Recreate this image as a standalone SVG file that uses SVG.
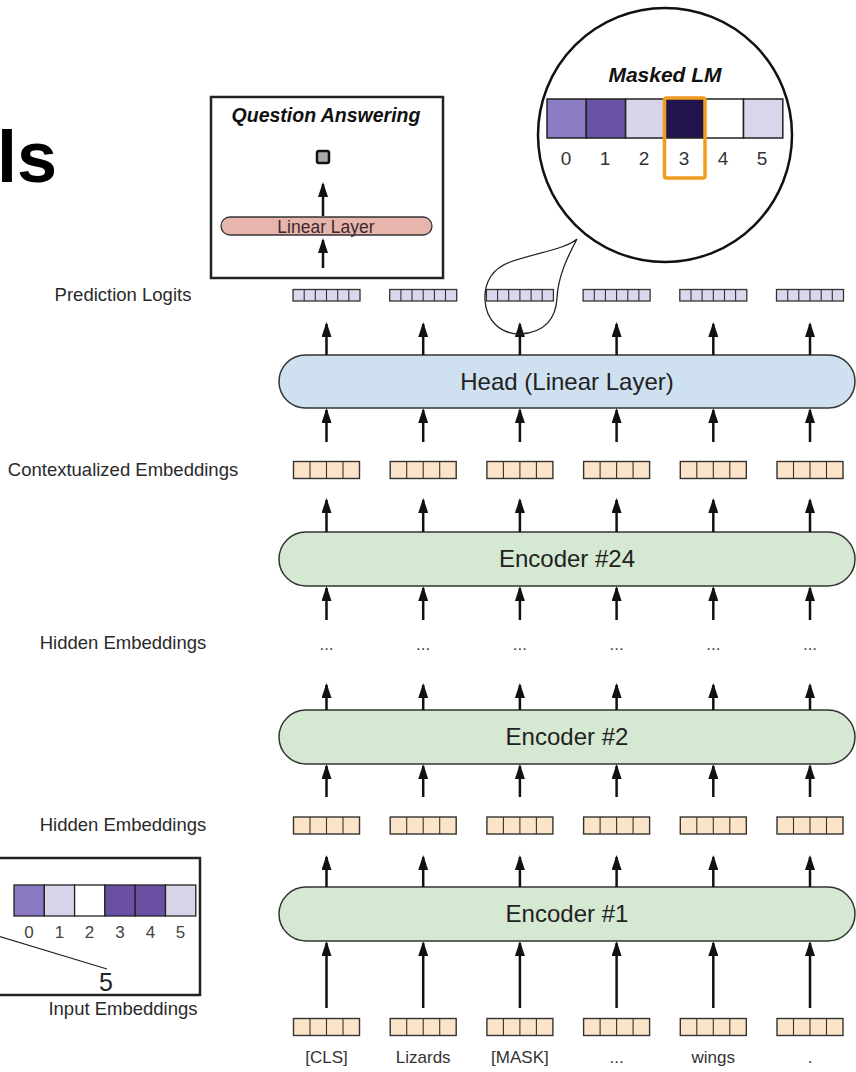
<svg xmlns="http://www.w3.org/2000/svg" width="856" height="1072" viewBox="0 0 856 1072">
<style>
text{font-family:"Liberation Sans",Arial,Helvetica,sans-serif}
.lbl{font-size:18.5px;fill:#2a2a2a;text-anchor:middle}
.tok{font-size:17px;fill:#333;text-anchor:middle}
.big{font-size:24px;fill:#222;text-anchor:middle}
.head{fill:#cfe0f1;stroke:#333;stroke-width:1.5}
.enc{fill:#d5e8d2;stroke:#333;stroke-width:1.5}
.emb{fill:#fce4c8;stroke:#333;stroke-width:1.4}
.logit{fill:#dcd7ec;stroke:#333;stroke-width:1.3}
.cell{stroke:#333;stroke-width:1.1;fill:none}
.arr{stroke:#111;stroke-width:2.5;fill:none;marker-end:url(#ah)}
.frame{fill:#fff;stroke:#222;stroke-width:2.5}
.dig{font-size:19px;fill:#333;text-anchor:middle}
.dig2{font-size:17px;fill:#444;text-anchor:middle}
.bi{font-weight:bold;font-style:italic;fill:#111;text-anchor:middle}
</style>
<defs>
<marker id="ah" viewBox="0 0 15 10" markerWidth="15" markerHeight="10" refX="13" refY="5" orient="auto" markerUnits="userSpaceOnUse">
<path d="M0,0 L15,5 L0,10 z" fill="#111"/>
</marker>
<g id="logitvec">
<rect class="logit" x="-33.5" y="0" width="67" height="11.5"/>
<path class="cell" d="M-22.3,0v11.5M-11.2,0v11.5M0,0v11.5M11.2,0v11.5M22.3,0v11.5"/>
</g>
<g id="embvec">
<rect class="emb" x="-33" y="0" width="66" height="17"/>
<path class="cell" d="M-16.5,0v17M0,0v17M16.5,0v17"/>
</g>
</defs>

<text x="-3" y="182" font-size="72" font-weight="bold" fill="#000">ls</text>

<g id="labels">
<text class="lbl" x="123" y="301">Prediction Logits</text>
<text class="lbl" x="123" y="476">Contextualized Embeddings</text>
<text class="lbl" x="123" y="649">Hidden Embeddings</text>
<text class="lbl" x="123" y="831">Hidden Embeddings</text>
<text class="lbl" x="123" y="1015">Input Embeddings</text>
</g>

<g id="head"><rect class="head" x="279" y="355" width="576" height="53" rx="26.5"/><text class="big" x="567" y="390">Head (Linear Layer)</text></g>
<g id="encoder24"><rect class="enc" x="279" y="532" width="576" height="54" rx="27"/><text class="big" x="567" y="567">Encoder #24</text></g>
<g id="encoder2"><rect class="enc" x="279" y="710" width="576" height="54" rx="27"/><text class="big" x="567" y="745">Encoder #2</text></g>
<g id="encoder1"><rect class="enc" x="279" y="887" width="576" height="54" rx="27"/><text class="big" x="567" y="922">Encoder #1</text></g>

<g id="logits">
<use href="#logitvec" x="326.5" y="289.5"/><use href="#logitvec" x="423.2" y="289.5"/><use href="#logitvec" x="519.9" y="289.5"/><use href="#logitvec" x="616.6" y="289.5"/><use href="#logitvec" x="713.3" y="289.5"/><use href="#logitvec" x="810" y="289.5"/>
</g>
<g id="contextualized">
<use href="#embvec" x="326.5" y="461.5"/><use href="#embvec" x="423.2" y="461.5"/><use href="#embvec" x="519.9" y="461.5"/><use href="#embvec" x="616.6" y="461.5"/><use href="#embvec" x="713.3" y="461.5"/><use href="#embvec" x="810" y="461.5"/>
</g>
<g id="hidden-dots" font-size="17" fill="#444" text-anchor="middle">
<text x="326.5" y="650">...</text><text x="423.2" y="650">...</text><text x="519.9" y="650">...</text><text x="616.6" y="650">...</text><text x="713.3" y="650">...</text><text x="810" y="650">...</text>
</g>
<g id="hidden">
<use href="#embvec" x="326.5" y="817"/><use href="#embvec" x="423.2" y="817"/><use href="#embvec" x="519.9" y="817"/><use href="#embvec" x="616.6" y="817"/><use href="#embvec" x="713.3" y="817"/><use href="#embvec" x="810" y="817"/>
</g>
<g id="input">
<use href="#embvec" x="326.5" y="1018.5"/><use href="#embvec" x="423.2" y="1018.5"/><use href="#embvec" x="519.9" y="1018.5"/><use href="#embvec" x="616.6" y="1018.5"/><use href="#embvec" x="713.3" y="1018.5"/><use href="#embvec" x="810" y="1018.5"/>
</g>
<g id="tokens">
<text class="tok" x="326.5" y="1063">[CLS]</text>
<text class="tok" x="423.2" y="1063">Lizards</text>
<text class="tok" x="519.9" y="1063">[MASK]</text>
<text class="tok" x="616.6" y="1063" fill="#555">...</text>
<text class="tok" x="713.3" y="1063">wings</text>
<text class="tok" x="810" y="1063">.</text>
</g>

<g id="connectors">
<line class="arr" x1="326.5" y1="355" x2="326.5" y2="324"/><line class="arr" x1="423.2" y1="355" x2="423.2" y2="324"/><line class="arr" x1="519.9" y1="355" x2="519.9" y2="324"/><line class="arr" x1="616.6" y1="355" x2="616.6" y2="324"/><line class="arr" x1="713.3" y1="355" x2="713.3" y2="324"/><line class="arr" x1="810" y1="355" x2="810" y2="324"/>
<line class="arr" x1="326.5" y1="442" x2="326.5" y2="410"/><line class="arr" x1="423.2" y1="442" x2="423.2" y2="410"/><line class="arr" x1="519.9" y1="442" x2="519.9" y2="410"/><line class="arr" x1="616.6" y1="442" x2="616.6" y2="410"/><line class="arr" x1="713.3" y1="442" x2="713.3" y2="410"/><line class="arr" x1="810" y1="442" x2="810" y2="410"/>
<line class="arr" x1="326.5" y1="532" x2="326.5" y2="500"/><line class="arr" x1="423.2" y1="532" x2="423.2" y2="500"/><line class="arr" x1="519.9" y1="532" x2="519.9" y2="500"/><line class="arr" x1="616.6" y1="532" x2="616.6" y2="500"/><line class="arr" x1="713.3" y1="532" x2="713.3" y2="500"/><line class="arr" x1="810" y1="532" x2="810" y2="500"/>
<line class="arr" x1="326.5" y1="620" x2="326.5" y2="588"/><line class="arr" x1="423.2" y1="620" x2="423.2" y2="588"/><line class="arr" x1="519.9" y1="620" x2="519.9" y2="588"/><line class="arr" x1="616.6" y1="620" x2="616.6" y2="588"/><line class="arr" x1="713.3" y1="620" x2="713.3" y2="588"/><line class="arr" x1="810" y1="620" x2="810" y2="588"/>
<line class="arr" x1="326.5" y1="710" x2="326.5" y2="685"/><line class="arr" x1="423.2" y1="710" x2="423.2" y2="685"/><line class="arr" x1="519.9" y1="710" x2="519.9" y2="685"/><line class="arr" x1="616.6" y1="710" x2="616.6" y2="685"/><line class="arr" x1="713.3" y1="710" x2="713.3" y2="685"/><line class="arr" x1="810" y1="710" x2="810" y2="685"/>
<line class="arr" x1="326.5" y1="797" x2="326.5" y2="766"/><line class="arr" x1="423.2" y1="797" x2="423.2" y2="766"/><line class="arr" x1="519.9" y1="797" x2="519.9" y2="766"/><line class="arr" x1="616.6" y1="797" x2="616.6" y2="766"/><line class="arr" x1="713.3" y1="797" x2="713.3" y2="766"/><line class="arr" x1="810" y1="797" x2="810" y2="766"/>
<line class="arr" x1="326.5" y1="887" x2="326.5" y2="857"/><line class="arr" x1="423.2" y1="887" x2="423.2" y2="857"/><line class="arr" x1="519.9" y1="887" x2="519.9" y2="857"/><line class="arr" x1="616.6" y1="887" x2="616.6" y2="857"/><line class="arr" x1="713.3" y1="887" x2="713.3" y2="857"/><line class="arr" x1="810" y1="887" x2="810" y2="857"/>
<line class="arr" x1="326.5" y1="1008" x2="326.5" y2="943"/><line class="arr" x1="423.2" y1="1008" x2="423.2" y2="943"/><line class="arr" x1="519.9" y1="1008" x2="519.9" y2="943"/><line class="arr" x1="616.6" y1="1008" x2="616.6" y2="943"/><line class="arr" x1="713.3" y1="1008" x2="713.3" y2="943"/><line class="arr" x1="810" y1="1008" x2="810" y2="943"/>
</g>

<g id="question-answering">
<rect class="frame" x="211" y="97" width="232" height="181"/>
<text class="bi" x="326" y="122" font-size="19.5">Question Answering</text>
<rect x="317" y="151" width="12" height="12" rx="2" fill="#aaa" stroke="#111" stroke-width="2.5"/>
<line class="arr" x1="323" y1="216" x2="323" y2="184"/>
<rect x="221" y="217" width="211" height="18" rx="9" fill="#e8b5ad" stroke="#333" stroke-width="1.3"/>
<text x="326" y="232.5" font-size="17.5" fill="#3a2a2a" text-anchor="middle">Linear Layer</text>
<line class="arr" x1="323" y1="268" x2="323" y2="240"/>
</g>

<g id="masked-lm">
<circle cx="665" cy="135" r="127" fill="#fff" stroke="#111" stroke-width="2.5"/>
<path d="M577,239 C568,256 558,276 557,298 C556,318 545,333 520,334 C500,334 486,320 485,300 C484,282 493,268 510,262 C540,252 565,249 577,239" fill="none" stroke="#222" stroke-width="1.3"/>
<text class="bi" x="665" y="82" font-size="21">Masked LM</text>
<rect x="547" y="99" width="39.3" height="39" fill="#8b7bc3" stroke="#222" stroke-width="1.5"/>
<rect x="586.3" y="99" width="39.3" height="39" fill="#6a52a6" stroke="#222" stroke-width="1.5"/>
<rect x="625.6" y="99" width="39.3" height="39" fill="#d9d4ea" stroke="#222" stroke-width="1.5"/>
<rect x="664.9" y="99" width="39.3" height="39" fill="#22154f" stroke="#222" stroke-width="1.5"/>
<rect x="704.2" y="99" width="39.3" height="39" fill="#fff" stroke="#222" stroke-width="1.5"/>
<rect x="743.5" y="99" width="39.3" height="39" fill="#dad5ea" stroke="#222" stroke-width="1.5"/>
<rect x="664.5" y="98" width="40.5" height="80" rx="2" fill="none" stroke="#f09c1e" stroke-width="3.5"/>
<text class="dig" x="566" y="165">0</text>
<text class="dig" x="605" y="165">1</text>
<text class="dig" x="644" y="165">2</text>
<text class="dig" x="684" y="165">3</text>
<text class="dig" x="723" y="165">4</text>
<text class="dig" x="762" y="165">5</text>
</g>

<g id="bottom-left-box">
<rect class="frame" x="-5" y="858" width="205" height="137"/>
<rect x="14" y="885" width="30.3" height="31" fill="#8a78c2" stroke="#222" stroke-width="1.3"/>
<rect x="44.3" y="885" width="30.3" height="31" fill="#d9d3ea" stroke="#222" stroke-width="1.3"/>
<rect x="74.6" y="885" width="30.3" height="31" fill="#fff" stroke="#222" stroke-width="1.3"/>
<rect x="104.9" y="885" width="30.3" height="31" fill="#6a4fa5" stroke="#222" stroke-width="1.3"/>
<rect x="135.2" y="885" width="30.3" height="31" fill="#6a4fa5" stroke="#222" stroke-width="1.3"/>
<rect x="165.5" y="885" width="30.3" height="31" fill="#d9d3ea" stroke="#222" stroke-width="1.3"/>
<text class="dig2" x="29" y="938">0</text>
<text class="dig2" x="59.5" y="938">1</text>
<text class="dig2" x="89.5" y="938">2</text>
<text class="dig2" x="120" y="938">3</text>
<text class="dig2" x="150.5" y="938">4</text>
<text class="dig2" x="180.5" y="938">5</text>
<line x1="-2" y1="936" x2="107" y2="969" stroke="#222" stroke-width="1.2"/>
<text x="106" y="991" font-size="25" fill="#222" text-anchor="middle">5</text>
</g>
</svg>
